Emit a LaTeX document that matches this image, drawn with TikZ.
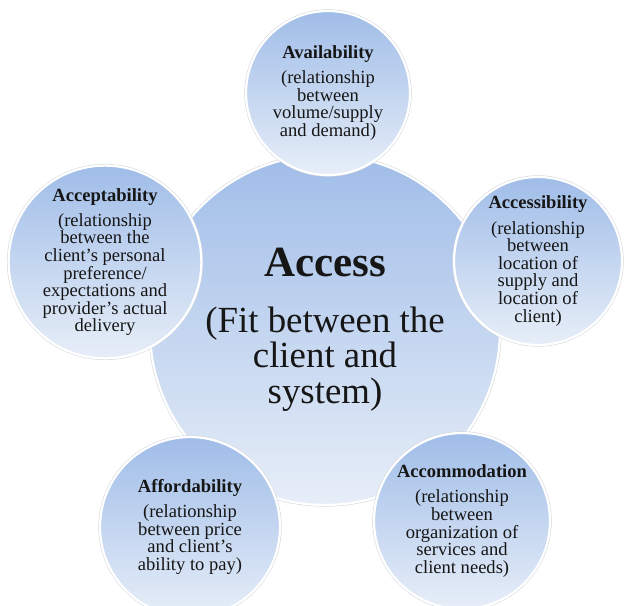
\documentclass[tikz,border=0pt]{standalone}
\usepackage{fontspec}
\setmainfont{Liberation Serif}
\usepackage{xcolor}
\usepackage{tikz}
\definecolor{Ink}{HTML}{161616}
\definecolor{BlueTop}{HTML}{A0BDE8}
\definecolor{BlueLow}{HTML}{E7EEF8}
\definecolor{Rim}{HTML}{D0D4DA}
\tikzset{
  core/.style={circle,inner sep=0pt,align=center,text=Ink,top color=BlueTop,bottom color=BlueLow,draw=white,line width=1.6pt,preaction={draw=Rim,line width=2.3pt}},
  petal/.style={core,font=\fontsize{13.2}{12.5}\selectfont}
}

\begin{document}
\begin{tikzpicture}
  \useasboundingbox (0,0) rectangle (15.6,15.125);
  \node[core,minimum size=8.75cm,font=\fontsize{26.2}{25.5}\selectfont] (access) at (8.125,6.875)
    {{\fontsize{30.6}{30}\selectfont\bfseries Access}\\[14pt](Fit between the\\client and\\system)};
  \node[petal,minimum size=4.1cm] (avail) at (8.2,12.8)
    {\textbf{Availability}\\[5.5pt](relationship\\between\\volume/supply\\and demand)};
  \node[petal,minimum size=4.5cm] (accept) at (2.625,8.575)
    {\textbf{Acceptability}\\[5.5pt](relationship\\between the\\client's personal\\preference/\\expectations and\\provider’s actual\\delivery};
  \node[petal,minimum size=4.2cm] (reach) at (13.45,8.6)
    {\textbf{Accessibility}\\[5.5pt](relationship\\between\\location of\\supply and\\location of\\client)};
  \node[petal,minimum size=4.5cm] (afford) at (4.75,1.95)
    {\textbf{Affordability}\\[5.5pt](relationship\\between price\\and client’s\\ability to pay)};
  \node[petal,minimum size=4.4cm] (accom) at (11.55,2.1)
    {\textbf{Accommodation}\\[5.5pt](relationship\\between\\organization of\\services and\\client needs)};
\end{tikzpicture}
\end{document}
